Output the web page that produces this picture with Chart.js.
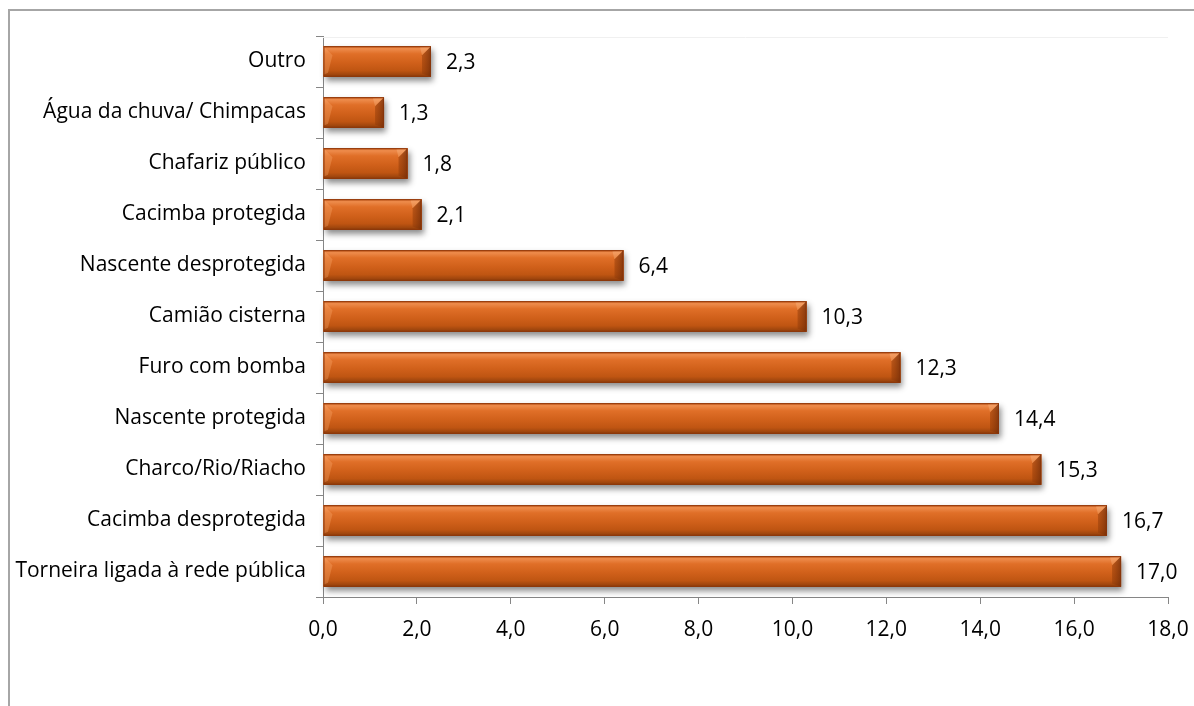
<!DOCTYPE html>
<html>
<head>
<meta charset="utf-8">
<script src="https://cdn.jsdelivr.net/npm/chart.js@4.4.1/dist/chart.umd.min.js"></script>
<style>
html,body{margin:0;padding:0;background:#fff;}
#wrap{position:relative;width:1194px;height:706px;overflow:hidden;}
#frame{position:absolute;left:8px;top:9px;width:1200px;height:710px;border-left:2px solid #a6a6a6;border-top:2px solid #a6a6a6;}
canvas{position:absolute;left:0;top:0;}
</style>
</head>
<body>
<div id="wrap">
<div id="frame"></div>
<canvas id="c" width="1194" height="706"></canvas>
</div>
<script>
const categories = ["Outro","Água da chuva/ Chimpacas","Chafariz público","Cacimba protegida","Nascente desprotegida","Camião cisterna","Furo com bomba","Nascente protegida","Charco/Rio/Riacho","Cacimba desprotegida","Torneira ligada à rede pública"];
const values = [2.3,1.3,1.8,2.1,6.4,10.3,12.3,14.4,15.3,16.7,17.0];
const xTicks = [0,2,4,6,8,10,12,14,16,18];

const fmt = v => v.toFixed(1).replace('.', ',');
const FONT = "'Open Sans', sans-serif";
const FSIZE = 21;

const barStyle = {
  id:'barStyle',
  beforeDatasetsDraw(chart){
    const ctx = chart.ctx;
    const ca = chart.chartArea;
    ctx.save();
    ctx.strokeStyle = '#f0f0f0';
    ctx.lineWidth = 1;
    ctx.beginPath(); ctx.moveTo(ca.left, ca.top + 1.5); ctx.lineTo(ca.right, ca.top + 1.5); ctx.stroke();
    ctx.restore();
    const meta = chart.getDatasetMeta(0);
    ctx.save();
    meta.data.forEach(bar => {
      const h = bar.height, x0 = bar.base, x1 = bar.x, top = bar.y - h/2;
      ctx.shadowColor = 'rgba(0,0,0,0.45)';
      ctx.shadowBlur = 6;
      ctx.shadowOffsetX = 2;
      ctx.shadowOffsetY = 4;
      ctx.fillStyle = '#C55A11';
      ctx.fillRect(x0, top, x1 - x0, h);
    });
    ctx.restore();
  },
  afterDatasetsDraw(chart){
    const ctx = chart.ctx;
    const meta = chart.getDatasetMeta(0);
    ctx.save();
    meta.data.forEach((bar, i) => {
      const h = bar.height, x0 = bar.base, x1 = bar.x, y = bar.y;
      const top = y - h/2, bot = y + h/2, w = x1 - x0;
      const g = ctx.createLinearGradient(0, top, 0, bot);
      g.addColorStop(0, '#C9591A');
      g.addColorStop(0.08, '#EE8C4C');
      g.addColorStop(0.25, '#E06F28');
      g.addColorStop(0.55, '#D0601A');
      g.addColorStop(0.8, '#BF5512');
      g.addColorStop(1, '#8F3E0B');
      ctx.fillStyle = g;
      ctx.fillRect(x0, top, w, h);
      const b = Math.min(9, w/3);
      const gr = ctx.createLinearGradient(x1 - b, 0, x1, 0);
      gr.addColorStop(0, 'rgba(150,62,10,0.5)');
      gr.addColorStop(1, 'rgba(115,45,8,0.8)');
      ctx.fillStyle = gr;
      ctx.beginPath();
      ctx.moveTo(x1 - b, top + b); ctx.lineTo(x1, top); ctx.lineTo(x1, bot); ctx.lineTo(x1 - b, bot - 3); ctx.closePath(); ctx.fill();
      ctx.fillStyle = 'rgba(255,200,150,0.3)';
      ctx.beginPath();
      ctx.moveTo(x1 - b - 2, top + 1); ctx.lineTo(x1, top); ctx.lineTo(x1 - b, top + b); ctx.closePath(); ctx.fill();
      ctx.fillStyle = 'rgba(255,180,120,0.3)';
      ctx.beginPath();
      ctx.moveTo(x0, top); ctx.lineTo(x0 + b, top + b); ctx.lineTo(x0 + b*0.5, bot - 4); ctx.lineTo(x0, bot - 2); ctx.closePath(); ctx.fill();
      ctx.strokeStyle = 'rgba(135,52,10,0.9)';
      ctx.lineWidth = 1;
      ctx.strokeRect(x0 + 0.5, top + 0.5, w - 1, h - 1);
      ctx.fillStyle = '#000';
      ctx.font = FSIZE + "px " + FONT;
      ctx.textBaseline = 'middle';
      ctx.textAlign = 'left';
      ctx.fillText(fmt(chart.data.datasets[0].data[i]), x1 + 15, y + 2);
    });
    ctx.restore();
  }
};

new Chart(document.getElementById('c'), {
  type:'bar',
  data:{
    labels: categories,
    datasets:[{
      data: values,
      backgroundColor: '#D0601A',
      borderWidth: 0,
      barPercentage: 0.6,
      categoryPercentage: 1.0
    }]
  },
  options:{
    indexAxis:'y',
    responsive:false,
    animation:false,
    events:[],
    layout:{padding:{left:0,right:26,top:36,bottom:64}},
    plugins:{legend:{display:false},tooltip:{enabled:false},title:{display:false}},
    scales:{
      x:{
        min:0,max:18,
        afterBuildTicks(scale){ scale.ticks = xTicks.map(v => ({value:v})); },
        grid:{drawOnChartArea:false,drawTicks:true,tickLength:7,color:'#868686'},
        border:{color:'#868686',width:1},
        ticks:{color:'#000',font:{family:FONT,size:FSIZE},padding:13,callback:v=>fmt(v),maxRotation:0},
        afterFit(scale){ scale.height = 45; scale.paddingRight = 0; scale.paddingLeft = 0; }
      },
      y:{
        grid:{drawOnChartArea:false,drawTicks:true,tickLength:7,color:'#868686',offset:true},
        border:{color:'#868686',width:1},
        ticks:{color:'#000',font:{family:FONT,size:FSIZE},padding:10,autoSkip:false},
        afterFit(scale){ scale.width = 323; }
      }
    }
  },
  plugins:[barStyle]
});
</script>
</body>
</html>
